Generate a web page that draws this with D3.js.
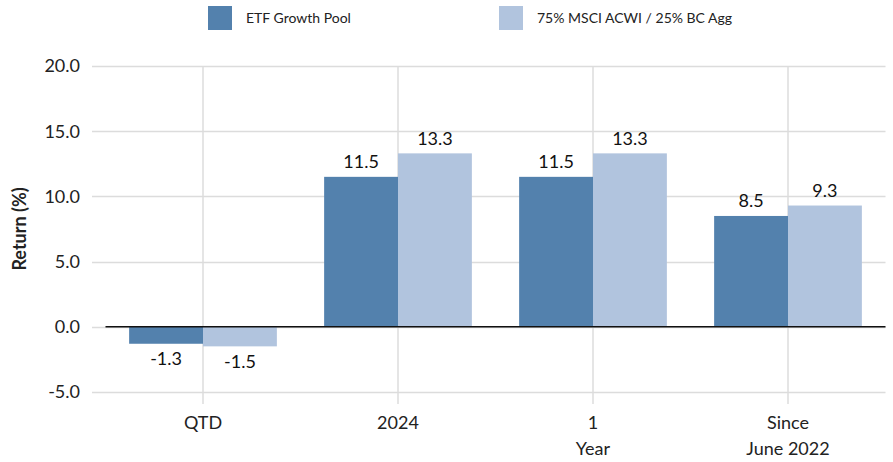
<!DOCTYPE html>
<html>
<head>
<meta charset="utf-8">
<script src="https://cdn.jsdelivr.net/npm/d3@7"></script>
<style>
  body { margin: 0; background: #fff; }
  svg { display: block; font-family: Lato, "Open Sans", sans-serif; }
</style>
</head>
<body>
<div id="chart"></div>
<script>
// chart data
const categories = ["QTD", "2024", "1\nYear", "Since\nJune 2022"];
const seriesNames = ["ETF Growth Pool", "75% MSCI ACWI / 25% BC Agg"];
const poolValues = [-1.3, 11.5, 11.5, 8.5];
const benchValues = [-1.5, 13.3, 13.3, 9.3];
const yTicks = [-5, 0, 5, 10, 15, 20];
const colors = ["#5381ad", "#b1c4de"];

const width = 893;
const height = 462;
const margin = {left: 105.5, right: 7.5, top: 66, bottom: 70};

const svg = d3.select("#chart")
  .append("svg")
  .attr("width", width)
  .attr("height", height);

// scales
const y = d3.scaleLinear()
  .domain([-5, 20])
  .range([392, 66]);

const x = d3.scaleBand()
  .domain(categories)
  .range([margin.left, width - margin.right]);

const xInner = d3.scaleBand()
  .domain(seriesNames)
  .range([0, x.bandwidth()])
  .paddingOuter(0.32);

// horizontal grid + small tick stubs
svg.append("g")
  .selectAll("line")
  .data(yTicks)
  .join("line")
    .attr("x1", 92)
    .attr("x2", width - margin.right)
    .attr("y1", d => Math.round(y(d)) + 0.5)
    .attr("y2", d => Math.round(y(d)) + 0.5)
    .attr("stroke", "#dcdcdc")
    .attr("stroke-width", 1.5);

// vertical grid at category centres
svg.append("g")
  .selectAll("line")
  .data(categories)
  .join("line")
    .attr("x1", d => x(d) + x.bandwidth() / 2)
    .attr("x2", d => x(d) + x.bandwidth() / 2)
    .attr("y1", 66)
    .attr("y2", 404)
    .attr("stroke", "#dcdcdc")
    .attr("stroke-width", 1.5);

// y tick labels
svg.append("g")
  .selectAll("text")
  .data(yTicks)
  .join("text")
    .attr("x", 80)
    .attr("y", d => y(d))
    .attr("dy", "0.35em")
    .attr("text-anchor", "end")
    .attr("font-size", 18)
    .attr("fill", "#222")
    .text(d => d.toFixed(1));

// y axis title
svg.append("text")
  .attr("transform", `translate(26, ${y(7.5)}) rotate(-90)`)
  .attr("text-anchor", "middle")
  .attr("font-size", 18)
  .attr("font-weight", "bold")
  .attr("fill", "#222")
  .text("Return (%)");

// bars
const rows = categories.map((c, i) => ({cat: c, vals: [poolValues[i], benchValues[i]]}));

const groups = svg.append("g")
  .selectAll("g")
  .data(rows)
  .join("g")
    .attr("transform", d => `translate(${x(d.cat)},0)`);

groups.selectAll("rect")
  .data(d => d.vals.map((v, j) => ({name: seriesNames[j], v: v, j: j})))
  .join("rect")
    .attr("x", d => xInner(d.name))
    .attr("y", d => y(Math.max(0, d.v)))
    .attr("width", xInner.bandwidth())
    .attr("height", d => Math.abs(y(d.v) - y(0)))
    .attr("fill", d => colors[d.j]);

// value labels
groups.selectAll("text")
  .data(d => d.vals.map((v, j) => ({name: seriesNames[j], v: v})))
  .join("text")
    .attr("x", d => xInner(d.name) + xInner.bandwidth() / 2)
    .attr("y", d => d.v >= 0 ? y(d.v) - 15 : y(d.v) + 15)
    .attr("dy", "0.35em")
    .attr("text-anchor", "middle")
    .attr("font-size", 18)
    .attr("fill", "#111")
    .text(d => d.v.toFixed(1));

// zero line
svg.append("line")
  .attr("x1", margin.left)
  .attr("x2", width - margin.right)
  .attr("y1", y(0))
  .attr("y2", y(0))
  .attr("stroke", "#111")
  .attr("stroke-width", 1.5);

// x labels (multi line)
svg.append("g")
  .selectAll("text")
  .data(categories)
  .join("text")
    .attr("x", d => x(d) + x.bandwidth() / 2)
    .attr("y", 423)
    .attr("text-anchor", "middle")
    .attr("font-size", 18)
    .attr("fill", "#222")
    .each(function(d) {
      const lines = d.split("\n");
      d3.select(this).selectAll("tspan")
        .data(lines)
        .join("tspan")
          .attr("x", x(d) + x.bandwidth() / 2)
          .attr("dy", (l, i) => i === 0 ? "0.35em" : "1.4em")
          .text(l => l);
    });

// legend
const legendX = [208, 499];
const legend = svg.append("g")
  .selectAll("g")
  .data(seriesNames)
  .join("g")
    .attr("transform", (d, i) => `translate(${legendX[i]}, 6)`);

legend.append("rect")
  .attr("width", 24)
  .attr("height", 24)
  .attr("fill", (d, i) => colors[i]);

legend.append("text")
  .attr("x", 38)
  .attr("y", 12)
  .attr("dy", "0.35em")
  .attr("font-size", 14)
  .attr("fill", "#222")
  .text(d => d);
</script>
</body>
</html>
